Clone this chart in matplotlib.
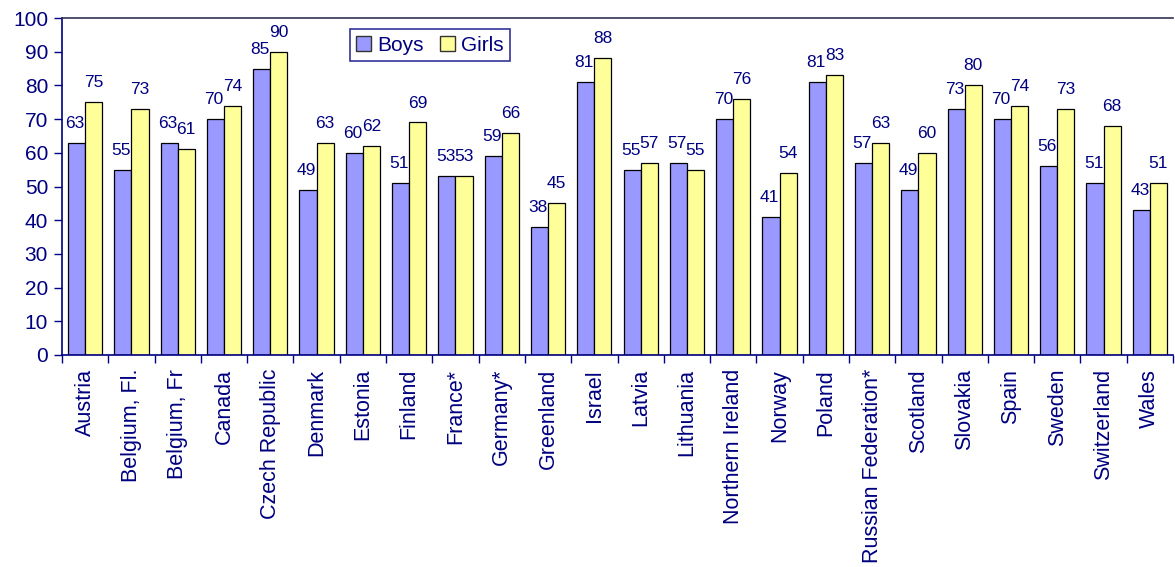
import matplotlib
matplotlib.use("Agg")
import matplotlib.pyplot as plt
import numpy as np
from matplotlib.patches import Patch

countries = ["Austria", "Belgium, Fl.", "Belgium, Fr", "Canada", "Czech Republic",
             "Denmark", "Estonia", "Finland", "France*", "Germany*", "Greenland",
             "Israel", "Latvia", "Lithuania", "Northern Ireland", "Norway", "Poland",
             "Russian Federation*", "Scotland", "Slovakia", "Spain", "Sweden",
             "Switzerland", "Wales"]
boys = [63, 55, 63, 70, 85, 49, 60, 51, 53, 59, 38, 81, 55, 57, 70, 41, 81, 57, 49, 73, 70, 56, 51, 43]
girls = [75, 73, 61, 74, 90, 63, 62, 69, 53, 66, 45, 88, 57, 55, 76, 54, 83, 63, 60, 80, 74, 73, 68, 51]
yticks = list(range(0, 101, 10))

navy = "#000080"
boys_color = "#9999FF"
girls_color = "#FFFF99"

plt.rcParams['font.family'] = ['Liberation Sans', 'DejaVu Sans']

fig = plt.figure(figsize=(11.75, 5.67), dpi=100)
ax = fig.add_axes([62/1175, 1-355/567, (1173-62)/1175, (355-18)/567])

x = np.arange(len(countries))
w = 0.37
ax.bar(x - w/2, boys, w, color=boys_color, edgecolor="black", linewidth=0.9, zorder=2)
ax.bar(x + w/2, girls, w, color=girls_color, edgecolor="black", linewidth=0.9, zorder=2)

for xi, v in zip(x - w/2, boys):
    ax.annotate(str(v), (xi, v), xytext=(-1, 14), textcoords="offset points",
                ha="center", va="center", fontsize=12.5, color=navy)
for xi, v in zip(x + w/2, girls):
    ax.annotate(str(v), (xi, v), xytext=(0, 14), textcoords="offset points",
                ha="center", va="center", fontsize=12.5, color=navy)

ax.set_xlim(-0.5, len(countries) - 0.5)
ax.set_ylim(0, 100)
ax.set_yticks(yticks)
ax.set_yticklabels([str(t) for t in yticks], fontsize=15, color=navy)
ax.set_xticks(x)
ax.set_xticklabels(countries, rotation=90, fontsize=15.5, color=navy)
ax.set_xticks(np.arange(-0.5, len(countries) + 0.5, 1), minor=True)
ax.tick_params(axis="x", which="major", length=0, pad=10)
ax.tick_params(axis="x", which="minor", length=6, color=navy, width=1)
ax.tick_params(axis="y", length=6, color=navy, width=1, pad=4)

ax.spines["left"].set_color(navy)
ax.spines["bottom"].set_color(navy)
ax.spines["top"].set_color("#333355")
ax.spines["right"].set_visible(False)
for s in ["left", "bottom", "top"]:
    ax.spines[s].set_linewidth(1.2)

handles = [Patch(facecolor=boys_color, edgecolor="#333333", label="Boys"),
           Patch(facecolor=girls_color, edgecolor="#333333", label="Girls")]
leg = ax.legend(handles=handles, loc="upper left", bbox_to_anchor=(0.259, 0.966),
                ncol=2, fontsize=15, frameon=True, fancybox=False,
                handlelength=0.7, handleheight=0.7, handletextpad=0.3,
                columnspacing=0.8, borderpad=0.3, borderaxespad=0)
leg.get_frame().set_edgecolor(navy)
leg.get_frame().set_linewidth(1.2)
for t in leg.get_texts():
    t.set_color(navy)

fig.savefig("out.png", dpi=100)
